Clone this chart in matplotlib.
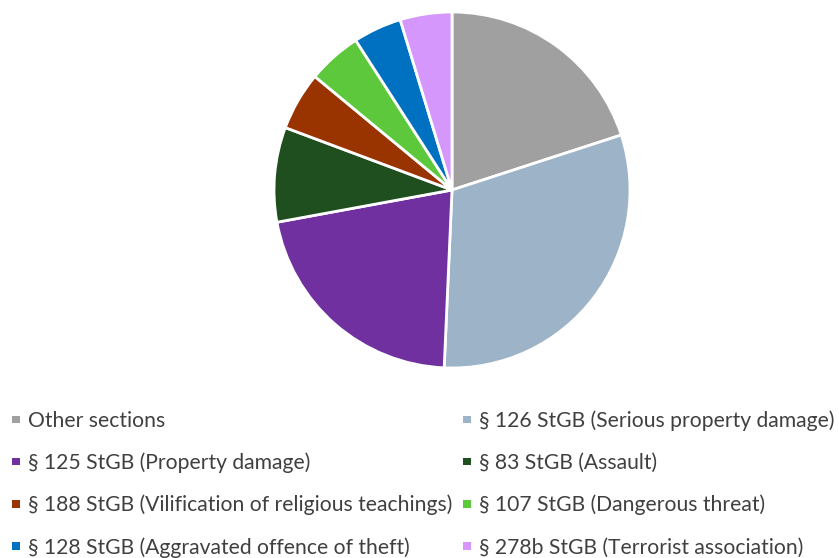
import matplotlib
matplotlib.use('Agg')
import matplotlib.pyplot as plt
from matplotlib.patches import Rectangle

# Share of offences per StGB section (percent)
labels = [
    "Other sections",
    "§ 126 StGB (Serious property damage)",
    "§ 125 StGB (Property damage)",
    "§ 83 StGB (Assault)",
    "§ 188 StGB (Vilification of religious teachings)",
    "§ 107 StGB (Dangerous threat)",
    "§ 128 StGB (Aggravated offence of theft)",
    "§ 278b StGB (Terrorist association)",
]
shares = [20.0, 30.7, 21.4, 8.6, 5.3, 4.9, 4.4, 4.7]
colors = ["#a0a0a0", "#9db3c7", "#7030a0", "#1f4e1f",
          "#993300", "#5ec83c", "#0070c0", "#d597fc"]

W, H = 839, 558
fig = plt.figure(figsize=(W / 100, H / 100), dpi=100)

# pie centred at (452, 190) px, radius 178 px
cx, cy, r = 452, 190, 178
ax = fig.add_axes([(cx - r) / W, (H - cy - r) / H, 2 * r / W, 2 * r / H])
ax.pie(shares, colors=colors, startangle=90, counterclock=False,
       wedgeprops=dict(edgecolor="white", linewidth=2))
ax.set_xlim(-1, 1)
ax.set_ylim(-1, 1)
ax.set_aspect("equal")
ax.axis("off")

# legend: two columns, row-major order (pixel positions from top-left)
col_x = [12, 463]
row_y = [419.5, 461.7, 503.8, 546]
msize = 7.5
for i, (lab, col) in enumerate(zip(labels, colors)):
    x = col_x[i % 2]
    y = row_y[i // 2]
    fig.patches.append(Rectangle((x / W, (H - y - msize / 2) / H),
                                 msize / W, msize / H,
                                 transform=fig.transFigure, facecolor=col,
                                 edgecolor="none"))
    fig.text((x + 16) / W, (H - y - 7.5) / H, lab, fontsize=15.2,
             color="#404040", family="Lato", va="baseline", ha="left")

fig.savefig("out.png", dpi=100)
